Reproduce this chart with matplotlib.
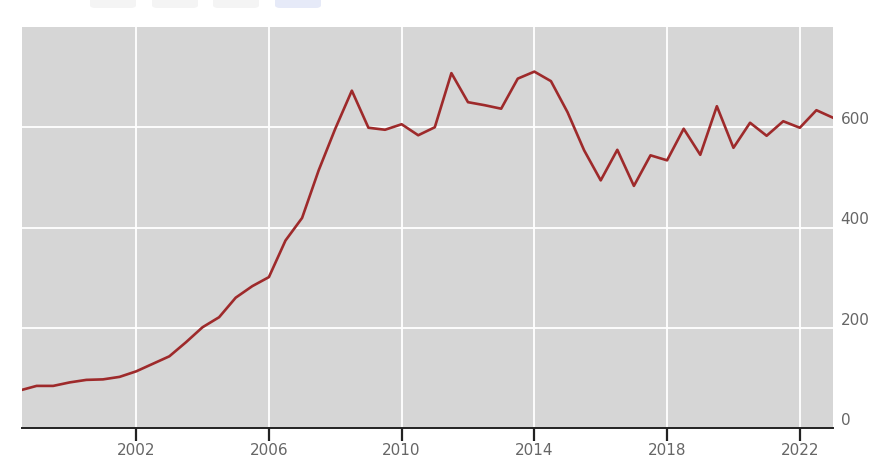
import numpy as np
import matplotlib
matplotlib.use("Agg")
from matplotlib import pyplot as plt
from matplotlib.patches import FancyBboxPatch

# half-yearly observations
years = np.arange(1998.5, 2023.01, 0.5)
values = [75, 84, 84, 91, 96, 97, 102, 113, 128, 143,
          171, 201, 221, 260, 283, 301, 374, 419, 514, 597,
          673, 599, 595, 606, 584, 600, 708, 650, 644, 637,
          697, 711, 692, 630, 554, 494, 555, 483, 544, 534,
          597, 545, 642, 559, 609, 583, 612, 599, 634, 619]
x_ticks = [2002, 2006, 2010, 2014, 2018, 2022]
y_ticks = [0, 200, 400, 600]

fig = plt.figure(figsize=(8.76, 4.67), dpi=100)
ax = fig.add_axes([22 / 876, 39 / 467, 811 / 876, 401 / 467])
ax.set_facecolor('#d6d6d6')

ax.plot(years, values, color='#9e2a2b', linewidth=1.9, zorder=3)

ax.set_xlim(1998.56, 2023.0)
ax.set_ylim(0, 800)
ax.set_xticks(x_ticks)
ax.set_yticks(y_ticks)
ax.set_xticklabels([str(t) for t in x_ticks])
ax.grid(True, color='white', linewidth=1.3, zorder=1)
ax.set_axisbelow(True)

for s in ['top', 'left', 'right']:
    ax.spines[s].set_visible(False)
ax.spines['bottom'].set_color('#222222')
ax.spines['bottom'].set_linewidth(1.4)

ax.tick_params(axis='x', direction='out', length=9, width=1.6, color='#222222',
               labelsize=11, labelcolor='#666666', pad=1.5)
ax.tick_params(axis='y', length=0, labelsize=11, labelcolor='#666666',
               labelleft=False, labelright=True, pad=5.5)
for lbl in ax.get_yticklabels():
    lbl.set_verticalalignment('bottom')

# the range buttons peeking in at the top edge
for x0, c in [(90, '#f4f4f4'), (152, '#f4f4f4'), (213, '#f4f4f4'), (275, '#e6eaf8')]:
    fig.patches.append(FancyBboxPatch((x0 / 876, 459 / 467), 46 / 876, 14 / 467,
                                      boxstyle='round,pad=0,rounding_size=0.006',
                                      transform=fig.transFigure, facecolor=c,
                                      edgecolor='none'))

fig.savefig('out.png', dpi=100)
